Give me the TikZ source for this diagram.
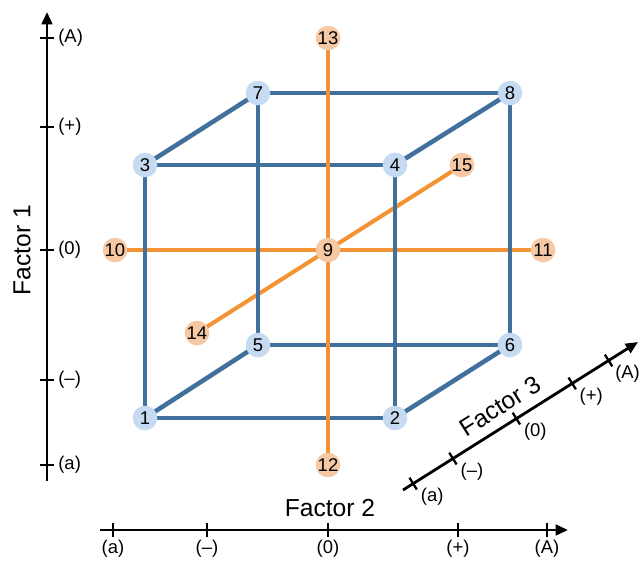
\documentclass[tikz,border=0pt]{standalone}
\usepackage{fontspec}
\setmainfont{Liberation Sans}
\usetikzlibrary{arrows.meta,calc}
\definecolor{edgeblue}{HTML}{41709D}
\definecolor{nodeblue}{HTML}{C6DAF2}
\definecolor{lineorange}{HTML}{F39334}
\definecolor{nodeorange}{HTML}{F6C8A4}
\begin{document}
\begin{tikzpicture}[x=0.02cm,y=-0.02cm,
  bnode/.style={circle,fill=nodeblue,inner sep=0pt,minimum size=14pt,font=\fontsize{10.5}{11}\selectfont},
  onode/.style={circle,fill=nodeorange,inner sep=0pt,minimum size=14pt,font=\fontsize{10.5}{11}\selectfont},
  bedge/.style={draw=edgeblue,line width=2.6pt},
  oedge/.style={draw=lineorange,line width=2.3pt},
  axisline/.style={draw=black,line width=1.6pt,-{Triangle[length=7pt,width=6pt]}},
  tickmark/.style={draw=black,line width=1.3pt},
  ticklab/.style={font=\fontsize{10.5}{12}\selectfont,inner sep=0pt},
  axlab/.style={font=\fontsize{14}{16}\selectfont,inner sep=0pt}]
\useasboundingbox (0,0) rectangle (639,562);
% cube node positions
\coordinate (c1) at (145,418);
\coordinate (c2) at (395,418);
\coordinate (c3) at (145,165);
\coordinate (c4) at (395,165);
\coordinate (c5) at (258,345);
\coordinate (c6) at (510,345);
\coordinate (c7) at (258,93);
\coordinate (c8) at (510,93);
\coordinate (c9) at (328,250);
\coordinate (c10) at (115,250);
\coordinate (c11) at (543,250);
\coordinate (c12) at (328,465);
\coordinate (c13) at (328,38);
\coordinate (c14) at (197,333);
\coordinate (c15) at (462,165);
% blue horizontal and diagonal edges
\draw[bedge] (c1) -- (c2);
\draw[bedge] (c3) -- (c4);
\draw[bedge] (c5) -- (c6);
\draw[bedge] (c7) -- (c8);
\draw[bedge] (c1) -- (c5);
\draw[bedge] (c2) -- (c6);
\draw[bedge] (c3) -- (c7);
\draw[bedge] (c4) -- (c8);
% orange lines
\draw[oedge] (c10) -- (c11);
\draw[oedge] (c12) -- (c13);
\draw[oedge] (c14) -- (c15);
% blue verticals
\draw[bedge] (c1) -- (c3);
\draw[bedge] (c2) -- (c4);
\draw[bedge] (c5) -- (c7);
\draw[bedge] (c6) -- (c8);
% nodes
\node[bnode] (n1) at (c1) {1};
\node[bnode] (n2) at (c2) {2};
\node[bnode] (n3) at (c3) {3};
\node[bnode] (n4) at (c4) {4};
\node[bnode] (n5) at (c5) {5};
\node[bnode] (n6) at (c6) {6};
\node[bnode] (n7) at (c7) {7};
\node[bnode] (n8) at (c8) {8};
\node[onode] (n9) at (c9) {9};
\node[onode] (n10) at (c10) {10};
\node[onode] (n11) at (c11) {11};
\node[onode] (n12) at (c12) {12};
\node[onode] (n13) at (c13) {13};
\node[onode] (n14) at (c14) {14};
\node[onode] (n15) at (c15) {15};
% Factor 1 axis
\coordinate (f1s) at (47,481);
\coordinate (f1e) at (47,12);
\draw[axisline] (f1s) -- (f1e);
\foreach \y/\l/\n in {38/(A)/A,127/(+)/p,250/(0)/z,380/(--)/m,465/(a)/a}{
  \coordinate (f1t\n) at (47,\y);
  \draw[tickmark] (f1t\n) ++(-7,0) -- ++(14,0);
  \node[ticklab,anchor=west] (f1l\n) at (58,\y) {\l};
}
\node[axlab,rotate=90] (f1lab) at (22,250) {Factor 1};
% Factor 2 axis
\coordinate (f2s) at (100,530);
\coordinate (f2e) at (568,530);
\draw[axisline] (f2s) -- (f2e);
\foreach \x/\l/\n in {113/(a)/a,207/(--)/m,328/(0)/z,458/(+)/p,547/(A)/A}{
  \coordinate (f2t\n) at (\x,530);
  \draw[tickmark] (f2t\n) ++(0,-7) -- ++(0,14);
  \node[ticklab,anchor=north] (f2l\n) at (\x,540) {\l};
}
\node[axlab] (f2lab) at (330,508) {Factor 2};
% Factor 3 axis
\coordinate (f3s) at (403,490);
\coordinate (f3e) at (638,342);
\draw[axisline] (f3s) -- (f3e);
\foreach \t/\l/\n in {12/(a)/a,59/(--)/m,134/(0)/z,200/(+)/p,243/(A)/A}{
  \coordinate (f3t\n) at ({403+0.846*\t},{490-0.533*\t});
  \draw[tickmark] (f3t\n) ++(-3.7,-5.9) -- ++(7.4,11.8);
  \node[ticklab] (f3l\n) at ($(f3t\n)+(19,13)$) {\l};
}
\node[axlab,rotate=32.2] (f3lab) at (500,406) {Factor 3};
\end{tikzpicture}
\end{document}
